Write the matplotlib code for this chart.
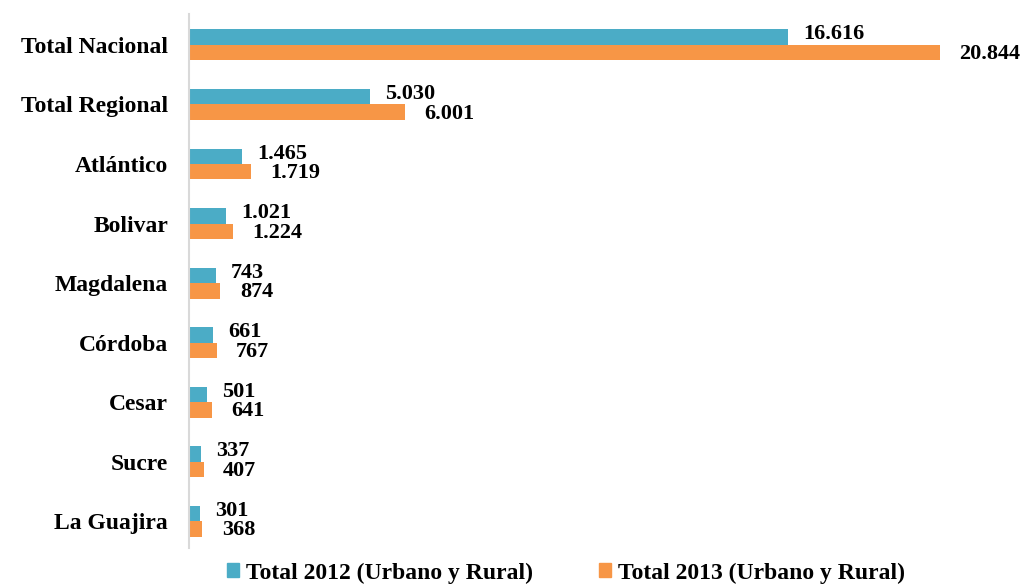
import matplotlib.pyplot as plt
import numpy as np
from matplotlib.patches import Patch

categories = ["Total Nacional", "Total Regional", "Atlántico", "Bolivar", "Magdalena",
              "Córdoba", "Cesar", "Sucre", "La Guajira"]
total_2012 = [16616, 5030, 1465, 1021, 743, 661, 501, 337, 301]
total_2013 = [20844, 6001, 1719, 1224, 874, 767, 641, 407, 368]
series_names = ["Total 2012 (Urbano y Rural)", "Total 2013 (Urbano y Rural)"]

c12 = "#4BACC6"
c13 = "#F79646"

plt.rcParams['font.family'] = ['Liberation Serif', 'DejaVu Serif']

fig = plt.figure(figsize=(10.23, 5.84), dpi=100)
ax = fig.add_axes([189/1023, 1 - 548/584, (1010-189)/1023, (548-14)/584])

y = np.arange(len(categories))
h = 0.26
ax.barh(y - h/2, total_2012, height=h, color=c12)
ax.barh(y + h/2, total_2013, height=h, color=c13)

ax.set_xlim(0, 22790)
ax.set_ylim(8.45, -0.52)

def fmt(v):
    return f"{v:,}".replace(",", ".")

for yi, v in zip(y, total_2012):
    ax.annotate(fmt(v), (v, yi - h/2), xytext=(11, 2), textcoords='offset points',
                ha='left', va='center', fontsize=16, fontweight='bold')
for yi, v in zip(y, total_2013):
    ax.annotate(fmt(v), (v, yi + h/2), xytext=(14, -1), textcoords='offset points',
                ha='left', va='center', fontsize=16, fontweight='bold')

ax.set_yticks(y)
ax.set_yticklabels(categories, fontsize=17, fontweight='bold')
ax.tick_params(axis='y', length=0, pad=15)
ax.set_xticks([])
for s in ['top', 'right', 'bottom']:
    ax.spines[s].set_visible(False)
ax.spines['left'].set_color('#D9D9D9')
ax.spines['left'].set_linewidth(1.5)

handles = [Patch(color=c12, label=series_names[0]), Patch(color=c13, label=series_names[1])]
fig.legend(handles=handles, loc='center', bbox_to_anchor=(0.553, 1 - 573/584), ncol=2,
           frameon=False, prop={'size': 17, 'weight': 'bold'}, handlelength=0.5,
           handleheight=0.5, handletextpad=0.3, columnspacing=2.8,
           borderpad=0, borderaxespad=0)

fig.savefig("out.png", dpi=100)
